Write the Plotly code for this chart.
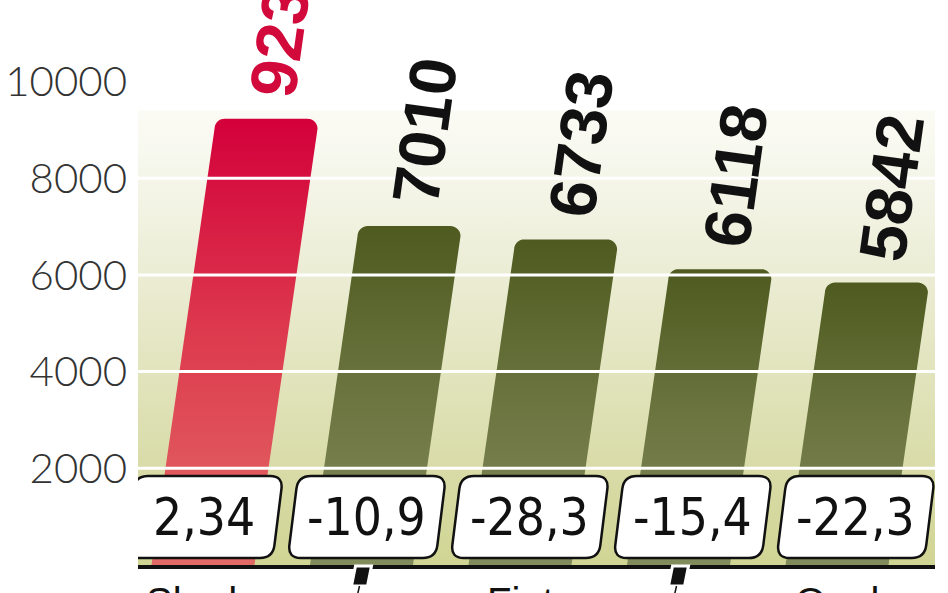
import math
import plotly.graph_objects as go

# ---- data ----
categories = ["Skoda", "Toyota", "Fiat", "Volkswagen", "Opel"]
sales = [9230, 7010, 6733, 6118, 5842]
change_pct = ["2,34", "-10,9", "-28,3", "-15,4", "-22,3"]
y_ticks = [2000, 4000, 6000, 8000, 10000]
y_tick_labels = ["2000", "4000", "6000", "8000", "10000"]

# ---- styling / geometry constants ----
W, H = 948, 593
M_L, M_R, M_T, M_B = 138, 13, 0, 28
X_RANGE = [-0.41, 4.618]
Y_RANGE = [0, 11686]
plot_w = W - M_L - M_R
plot_h = H - M_T - M_B
px_per_x = plot_w / (X_RANGE[1] - X_RANGE[0])
px_per_y = plot_h / (Y_RANGE[1] - Y_RANGE[0])
SLANT = 0.1445  # horizontal px per vertical px
k = SLANT * px_per_y / px_per_x  # x data units per value unit
HALF_W = 51.5 / px_per_x
R_PX = 10
rx = R_PX / px_per_x
ry = R_PX / px_per_y

fig = go.Figure()

# background gradient panel
bg_top = 9400
fig.add_trace(go.Scatter(
    x=[X_RANGE[0], X_RANGE[1], X_RANGE[1], X_RANGE[0], X_RANGE[0]],
    y=[0, 0, bg_top, bg_top, 0],
    mode="none", fill="toself",
    fillgradient=dict(type="vertical", colorscale=[
        [0.0, "#d0d594"], [0.2, "#d8dba6"], [0.45, "#e3e5c0"],
        [0.7, "#eeefda"], [0.88, "#f6f7ec"], [1.0, "#fbfbf5"]]),
    hoverinfo="skip", showlegend=False))


def bar_polygon(i, v):
    xs, ys = [], []
    xc = lambda y: i + k * y
    xs.append(i - HALF_W); ys.append(0)
    cxl, cyl = xc(v - ry) - HALF_W + rx, v - ry
    for t in range(0, 91, 10):
        a = math.radians(180 - t)
        xs.append(cxl + rx * math.cos(a)); ys.append(cyl + ry * math.sin(a))
    cxr, cyr = xc(v - ry) + HALF_W - rx, v - ry
    for t in range(0, 91, 10):
        a = math.radians(90 - t)
        xs.append(cxr + rx * math.cos(a)); ys.append(cyr + ry * math.sin(a))
    xs.append(i + HALF_W); ys.append(0)
    xs.append(i - HALF_W); ys.append(0)
    return xs, ys


for i, v in enumerate(sales):
    xs, ys = bar_polygon(i, v)
    if i == 0:
        cs = [[0, "#e26a66"], [0.5, "#dd3c4f"], [1, "#d3003a"]]
    else:
        cs = [[0, "#828b5c"], [0.5, "#6c7540"], [1, "#4e5a1f"]]
    fig.add_trace(go.Scatter(
        x=xs, y=ys, mode="none", fill="toself",
        fillgradient=dict(type="vertical", colorscale=cs),
        hoverinfo="skip", showlegend=False))

shapes = []
# white grid lines above bars
for t in y_ticks[:-1]:
    shapes.append(dict(type="line", xref="paper", yref="y", x0=0, x1=1,
                       y0=t, y1=t, line=dict(color="white", width=3),
                       layer="above"))


def rounded_para(w, h, slant, r, cy):
    hw, hh = w / 2, h / 2
    P = [(-hw + slant * hh, cy + hh), (hw + slant * hh, cy + hh),
         (hw - slant * hh, cy - hh), (-hw - slant * hh, cy - hh)]
    n = len(P)
    parts = []
    for j in range(n):
        p = P[j]; pp = P[j - 1]; pn = P[(j + 1) % n]

        def toward(a, b):
            dx, dy = b[0] - a[0], b[1] - a[1]
            d = math.hypot(dx, dy)
            return (a[0] + r * dx / d, a[1] + r * dy / d)
        a = toward(p, pp); b = toward(p, pn)
        parts.append(("M" if j == 0 else "L") + f"{a[0]:.1f},{a[1]:.1f}")
        parts.append(f"Q{p[0]:.1f},{p[1]:.1f} {b[0]:.1f},{b[1]:.1f}")
    return " ".join(parts) + " Z"


annotations = []
BOX_CY = 48
for i, txt in enumerate(change_pct):
    xb = i * 1.028 + 0.006
    shapes.append(dict(type="path", xref="x", yref="paper",
                       xsizemode="pixel", ysizemode="pixel",
                       xanchor=xb, yanchor=0,
                       path=rounded_para(148, 82, 0.125, 13, BOX_CY),
                       fillcolor="white", line=dict(color="#111111", width=2.5),
                       layer="above"))
    annotations.append(dict(x=xb, y=0, xref="x", yref="paper", yshift=BOX_CY,
                            text=txt, showarrow=False, xanchor="center",
                            yanchor="middle",
                            font=dict(family="Liberation Sans Narrow, DejaVu Sans Condensed, sans-serif",
                                      size=51, color="#111111")))

# value labels above bars
for i, v in enumerate(sales):
    annotations.append(dict(x=i + k * v, y=v, xref="x", yref="y",
                            xshift=14, yshift=15,
                            text=f"{v}", showarrow=False, textangle=-82,
                            xanchor="center", yanchor="bottom",
                            font=dict(family="Liberation Sans, Arial, sans-serif",
                                      size=66, weight="bold",
                                      color="#d20a3c" if i == 0 else "#111111")))

# category labels (two rows) and leader ticks
for i, c in enumerate(categories):
    if i % 2 == 0:
        annotations.append(dict(x=i, y=0, xref="x", yref="paper", yshift=-13,
                                text=c, showarrow=False, xanchor="center",
                                yanchor="top",
                                font=dict(family="Liberation Sans, sans-serif",
                                          size=40, color="#111111")))
    else:
        annotations.append(dict(x=i, y=0, xref="x", yref="paper", yshift=-70,
                                text=c, showarrow=False, xanchor="center",
                                yanchor="top",
                                font=dict(family="Liberation Sans, sans-serif",
                                          size=40, color="#111111")))
        shapes.append(dict(type="path", xref="x", yref="paper",
                           xsizemode="pixel", ysizemode="pixel",
                           xanchor=i, yanchor=0,
                           path="M-6,-1 L10,-1 L6,-21 L-10,-21 Z",
                           fillcolor="#111111", line=dict(color="white", width=3),
                           layer="above"))
        shapes.append(dict(type="path", xref="x", yref="paper",
                           xsizemode="pixel", ysizemode="pixel",
                           xanchor=i, yanchor=0,
                           path="M-2,-21 L-5,-34",
                           line=dict(color="#111111", width=1.5),
                           layer="above"))

fig.update_layout(
    width=W, height=H, autosize=False,
    margin=dict(l=M_L, r=M_R, t=M_T, b=M_B, pad=0),
    paper_bgcolor="white", plot_bgcolor="white",
    showlegend=False,
    xaxis=dict(range=X_RANGE, showticklabels=False, showgrid=False,
               zeroline=False, showline=True, linecolor="#111111",
               linewidth=4, ticks="", fixedrange=True),
    yaxis=dict(range=Y_RANGE, tickvals=y_ticks, ticktext=y_tick_labels,
               showgrid=False, zeroline=False, showline=False, ticks="",
               ticklabelstandoff=10,
               tickfont=dict(family="Lato, sans-serif", size=42, weight=300,
                             color="#333333"), fixedrange=True),
    shapes=shapes,
    annotations=annotations,
)

fig.write_html("out.html", config={"displayModeBar": False},
               post_script="document.body.style.margin='0';document.body.style.overflow='hidden';")
